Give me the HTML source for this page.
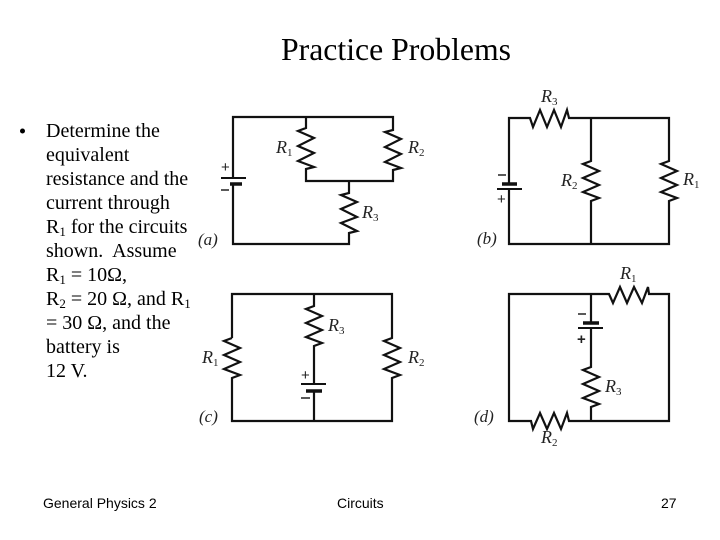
<!DOCTYPE html>
<html>
<head>
<meta charset="utf-8">
<style>
html,body{margin:0;padding:0;background:#fff}
#s{position:relative;width:720px;height:540px;overflow:hidden;background:#fff}
svg{position:absolute;left:0;top:0}
text{fill:#000}
.b{font-family:"Liberation Serif",serif;font-size:20px}
.f{font-family:"Liberation Sans",sans-serif;font-size:14px}
.t{font-family:"Liberation Serif",serif;font-size:32px}
.r{font-family:"Liberation Serif",serif;font-size:18px;font-style:italic;fill:#222}
.sb{font-size:11px;font-style:normal}
.s2{font-size:13px}
.l{font-family:"Liberation Serif",serif;font-size:17px;font-style:italic;fill:#222}
.p{font-family:"Liberation Sans",sans-serif;font-size:15px;fill:#222}
.w{fill:none;stroke:#111;stroke-width:2.2;stroke-linejoin:miter}
.w2{fill:none;stroke:#111;stroke-width:2}
.k{fill:none;stroke:#111;stroke-width:3.5}
</style>
</head>
<body>
<div id="s">
<svg width="720" height="540" viewBox="0 0 720 540" xmlns="http://www.w3.org/2000/svg">
<text class="t" x="281" y="60" textLength="230" lengthAdjust="spacingAndGlyphs">Practice Problems</text>

<circle cx="22.500" cy="131" r="2.500" fill="#000"/>
<text class="b" x="46" y="137">Determine the</text>
<text class="b" x="46" y="161">equivalent</text>
<text class="b" x="46" y="185">resistance and the</text>
<text class="b" x="46" y="209">current through</text>
<text class="b" x="46" y="233">R<tspan class="s2" dy="3">1</tspan><tspan dy="-3"> for the circuits</tspan></text>
<text class="b" x="46" y="257">shown.&#160; Assume</text>
<text class="b" x="46" y="281">R<tspan class="s2" dy="3">1</tspan><tspan dy="-3"> = 10Ω,</tspan></text>
<text class="b" x="46" y="305">R<tspan class="s2" dy="3">2</tspan><tspan dy="-3"> = 20 Ω, and R</tspan><tspan class="s2" dy="3">1</tspan></text>
<text class="b" x="46" y="329">= 30 Ω, and the</text>
<text class="b" x="46" y="353">battery is</text>
<text class="b" x="46" y="377">12 V.</text>

<text class="f" x="43" y="508">General Physics 2</text>
<text class="f" x="337" y="508">Circuits</text>
<text class="f" x="661" y="508">27</text>

<!-- a -->
<path class="w" d="M233 178V117H393V130L385 132L401 139L385 147L401 154L385 162L401 168L393 170V181H306V169L314 167L298 161L314 153L298 146L314 138L298 131L306 128V117"/>
<path class="w" d="M349 181V193L341 195L357 202L341 209L357 217L341 223L357 231L349 233V244H233V184"/>
<path class="w2" d="M221 178H246"/><path class="k" d="M230 184H242"/>
<text class="r" x="276" y="153">R<tspan class="sb" dy="3">1</tspan></text>
<text class="r" x="408" y="153">R<tspan class="sb" dy="3">2</tspan></text>
<text class="r" x="362" y="218">R<tspan class="sb" dy="3">3</tspan></text>
<text class="p" x="221" y="172" font-size="13">+</text>
<path d="M221 190H229" stroke="#222" stroke-width="1.500"/>
<text class="l" x="198" y="245">(a)</text>

<!-- b -->
<path class="w" d="M509 184V118H530L533 127L540 110L547 127L554 110L561 127L567 110L569 118H669V161L661 164L677 171L661 178L677 185L661 192L677 198L669 201V244H509V189"/>
<path class="w" d="M591 118V161L583 164L599 171L583 178L599 185L583 192L599 198L591 201V244"/>
<path class="k" d="M502 184H517"/><path class="w2" d="M497 189H522"/>
<text class="r" x="541" y="102">R<tspan class="sb" dy="3">3</tspan></text>
<text class="r" x="561" y="186">R<tspan class="sb" dy="3">2</tspan></text>
<text class="r" x="683" y="185">R<tspan class="sb" dy="3">1</tspan></text>
<path d="M498 175H506" stroke="#222" stroke-width="1.500"/>
<text class="p" x="497" y="204" font-size="13">+</text>
<text class="l" x="477" y="244">(b)</text>

<!-- c -->
<path class="w" d="M232 338L224 341L240 348L224 355L240 362L224 369L240 375L232 378V421H392V378L400 375L384 369L400 362L384 355L400 348L384 341L392 338V294H232V338"/>
<path class="w" d="M314 294V306L306 309L322 316L306 323L322 330L306 337L322 343L314 346V384M314 391V421"/>
<path class="w2" d="M301 384H326"/><path class="k" d="M306 391H322"/>
<text class="r" x="202" y="363">R<tspan class="sb" dy="3">1</tspan></text>
<text class="r" x="328" y="331">R<tspan class="sb" dy="3">3</tspan></text>
<text class="r" x="408" y="363">R<tspan class="sb" dy="3">2</tspan></text>
<text class="p" x="301" y="380">+</text>
<path d="M301 398H310" stroke="#222" stroke-width="1.500"/>
<text class="l" x="199" y="422">(c)</text>

<!-- d -->
<path class="w" d="M591 323V294H509V421H531L533 429L540 413L547 429L554 413L561 429L567 413L569 421H669V294H649L648 287L642 303L634 287L627 303L620 287L613 303L609 294H591"/>
<path class="w" d="M591 328V367L583 370L599 377L583 384L599 391L583 398L599 404L591 407V421"/>
<path class="k" d="M583 323H599"/><path class="w2" d="M578 328H603"/>
<text class="r" x="620" y="279">R<tspan class="sb" dy="3">1</tspan></text>
<text class="r" x="605" y="392">R<tspan class="sb" dy="3">3</tspan></text>
<text class="r" x="541" y="443">R<tspan class="sb" dy="3">2</tspan></text>
<path d="M578 314H586" stroke="#222" stroke-width="1.500"/>
<text class="p" x="577" y="344" style="font-weight:bold">+</text>
<text class="l" x="474" y="422">(d)</text>
</svg>
</div>
</body>
</html>
